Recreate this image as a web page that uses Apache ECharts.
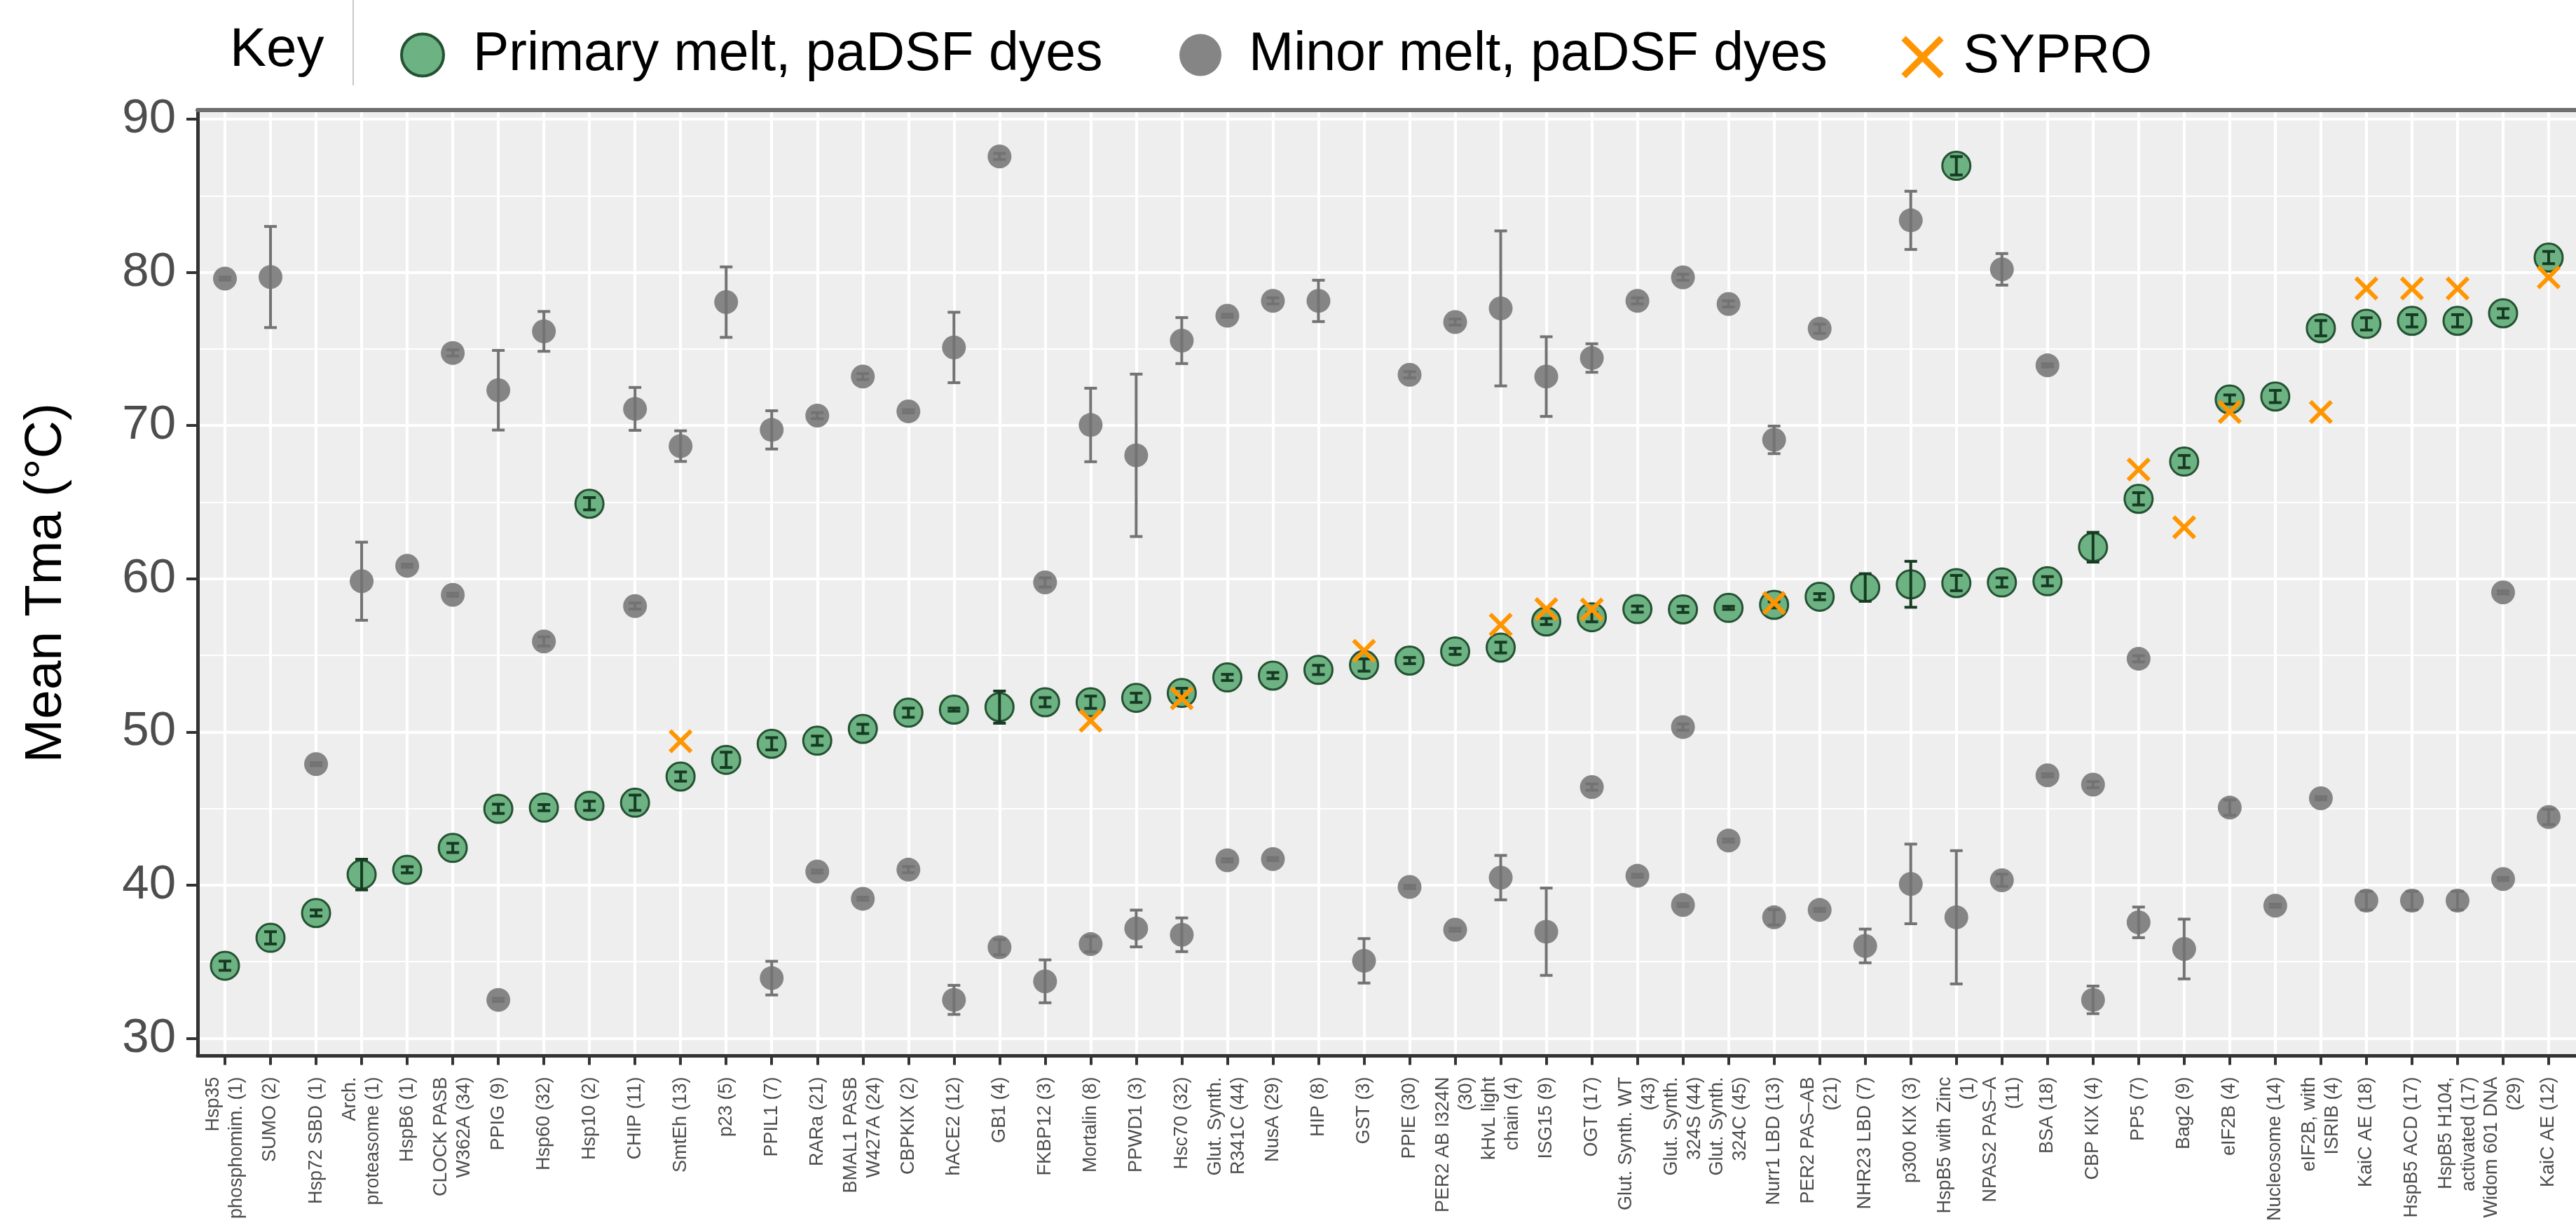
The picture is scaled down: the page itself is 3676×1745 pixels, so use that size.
<!DOCTYPE html>
<html>
<head>
<meta charset="utf-8">
<script src="https://cdn.jsdelivr.net/npm/echarts@6/dist/echarts.min.js"></script>
<style>
  html, body { margin: 0; padding: 0; background: #ffffff; }
  #chart { width: 3676px; height: 1745px; }
</style>
</head>
<body>
<div id="chart"></div>
<script>
// Protein names, with the number of samples in brackets
const categories = [
  'Hsp35\nphosphomim. (1)', 'SUMO (2)', 'Hsp72 SBD (1)', 'Arch.\nproteasome (1)', 'HspB6 (1)',
  'CLOCK PASB\nW362A (34)', 'PPIG (9)', 'Hsp60 (32)', 'Hsp10 (2)', 'CHIP (11)',
  'SmtEh (13)', 'p23 (5)', 'PPIL1 (7)', 'RARa (21)', 'BMAL1 PASB\nW427A (24)',
  'CBPKIX (2)', 'hACE2 (12)', 'GB1 (4)', 'FKBP12 (3)', 'Mortalin (8)',
  'PPWD1 (3)', 'Hsc70 (32)', 'Glut. Synth.\nR341C (44)', 'NusA (29)', 'HIP (8)',
  'GST (3)', 'PPIE (30)', 'PER2 AB I324N\n(30)', 'kHvL light\nchain (4)', 'ISG15 (9)',
  'OGT (17)', 'Glut. Synth. WT\n(43)', 'Glut. Synth.\n324S (44)', 'Glut. Synth.\n324C (45)', 'Nurr1 LBD (13)',
  'PER2 PAS\u2013AB\n(21)', 'NHR23 LBD (7)', 'p300 KIX (3)', 'HspB5 with Zinc\n(1)', 'NPAS2 PAS\u2013A\n(11)',
  'BSA (18)', 'CBP KIX (4)', 'PP5 (7)', 'Bag2 (9)', 'eIF2B (4)',
  'Nucleosome (14)', 'eIF2B, with\nISRIB (4)', 'KaiC AE (18)', 'HspB5 ACD (17)', 'HspB5 H104,\nactivated (17)',
  'Widom 601 DNA\n(29)', 'KaiC AE (12)'
];

const yTicks = [30, 40, 50, 60, 70, 80, 90];
const yMinorTicks = [35, 45, 55, 65, 75, 85];

// [category index, mean Tma, error]
const primaryMelts = [
  [0, 34.74, 0.3], [1, 36.56, 0.4], [2, 38.18, 0.2], [3, 40.69, 1.0], [4, 41.0, 0.2],
  [5, 42.43, 0.3], [6, 44.98, 0.3], [7, 45.06, 0.2], [8, 45.18, 0.3], [8, 64.9, 0.4],
  [9, 45.38, 0.5], [10, 47.09, 0.3], [11, 48.18, 0.5], [12, 49.23, 0.4], [13, 49.43, 0.3],
  [14, 50.2, 0.3], [15, 51.26, 0.3], [16, 51.46, 0.1], [17, 51.62, 1.05], [18, 51.94, 0.3],
  [19, 51.94, 0.4], [20, 52.23, 0.3], [21, 52.55, 0.3], [22, 53.56, 0.2], [23, 53.68, 0.2],
  [24, 54.05, 0.3], [25, 54.37, 0.4], [26, 54.66, 0.2], [27, 55.26, 0.2], [28, 55.51, 0.35],
  [29, 57.21, 0.2], [30, 57.49, 0.3], [31, 58.02, 0.2], [32, 58.0, 0.2], [33, 58.1, 0.1],
  [34, 58.3, 0.2], [35, 58.83, 0.2], [36, 59.43, 0.9], [37, 59.64, 1.5], [38, 59.72, 0.5],
  [38, 86.96, 0.6], [39, 59.76, 0.3], [40, 59.84, 0.3], [41, 62.06, 0.97], [42, 65.22, 0.4],
  [43, 67.65, 0.4], [44, 71.7, 0.3], [45, 71.9, 0.4], [46, 76.36, 0.5], [47, 76.64, 0.4],
  [48, 76.84, 0.4], [49, 76.84, 0.4], [50, 77.33, 0.3], [51, 80.97, 0.4]
];

const minorMelts = [
  [0, 79.6, 0.1], [1, 79.7, 3.3], [2, 47.9, 0.1], [3, 59.84, 2.55], [4, 60.85, 0.1],
  [5, 74.74, 0.2], [5, 58.95, 0.1], [6, 72.31, 2.6], [6, 32.51, 0.1],
  [7, 76.15, 1.3], [7, 55.91, 0.3], [9, 71.09, 1.4], [9, 58.22, 0.2],
  [10, 68.66, 1.0], [11, 78.06, 2.3], [12, 69.72, 1.25], [12, 33.93, 1.1],
  [13, 70.65, 0.2], [13, 40.89, 0.1], [14, 73.2, 0.2], [14, 39.11, 0.1],
  [15, 70.93, 0.1], [15, 41.01, 0.2], [16, 75.1, 2.3], [16, 32.51, 0.95],
  [17, 87.57, 0.2], [17, 35.95, 0.5], [18, 59.76, 0.3], [18, 33.72, 1.4],
  [19, 70.04, 2.4], [19, 36.15, 0.5], [20, 68.06, 5.3], [20, 37.17, 1.2],
  [21, 75.55, 1.5], [21, 36.76, 1.1], [22, 77.17, 0.1], [22, 41.62, 0.1],
  [23, 78.14, 0.2], [23, 41.7, 0.1], [24, 78.14, 1.35], [25, 35.06, 1.45],
  [26, 73.32, 0.2], [26, 39.88, 0.1], [27, 76.76, 0.2], [27, 37.09, 0.1],
  [28, 77.65, 5.06], [28, 40.49, 1.45], [29, 73.2, 2.6], [29, 36.96, 2.85],
  [30, 74.41, 0.93], [30, 46.4, 0.2], [31, 78.14, 0.2], [31, 40.61, 0.1],
  [32, 79.68, 0.2], [32, 50.32, 0.2], [32, 38.7, 0.1], [33, 77.94, 0.2], [33, 42.91, 0.1],
  [34, 69.07, 0.9], [34, 37.9, 0.5], [35, 76.32, 0.3], [35, 38.38, 0.1],
  [36, 36.03, 1.1], [37, 83.4, 1.9], [37, 40.08, 2.6], [38, 37.9, 4.35],
  [39, 80.2, 1.03], [39, 40.32, 0.4], [40, 73.93, 0.1], [40, 47.17, 0.1],
  [41, 46.56, 0.2], [41, 32.51, 0.9], [42, 54.78, 0.2], [42, 37.57, 1.0],
  [43, 35.83, 1.95], [44, 45.06, 0.5], [45, 38.66, 0.1], [46, 45.67, 0.1],
  [47, 38.99, 0.6], [48, 38.99, 0.6], [49, 38.99, 0.6], [50, 59.11, 0.1], [50, 40.4, 0.1],
  [51, 44.45, 0.5]
];

// [category index, SYPRO Tma]
const syproMelts = [
  [10, 49.39], [19, 50.73], [21, 52.2], [25, 55.3], [28, 57.0], [29, 58.02], [30, 58.0],
  [34, 58.42], [42, 67.13], [43, 63.36], [44, 70.89], [46, 70.89], [47, 78.95], [48, 78.95],
  [49, 78.95], [51, 79.68]
];

const FONT = '"Liberation Sans", Arial, Helvetica, sans-serif';
const GREEN = '#6DB283';
const GREEN_EDGE = '#245232';
const GREY = '#858585';
const ORANGE = '#FF9500';
const CROSS = 'path://M0 0L10 10M10 0L0 10';
const catIndex = categories.map((_, i) => i);

function errorBars(name, rows, color, z) {
  return {
    type: 'custom',
    name: name,
    z: z,
    silent: true,
    data: rows.map(r => [r[0], r[1] - r[2], r[1] + r[2]]),
    encode: { x: 0, y: [1, 2] },
    renderItem: function (params, api) {
      const x = api.value(0);
      const lo = api.coord([x, api.value(1)]);
      const hi = api.coord([x, api.value(2)]);
      const hw = 9;
      const style = { stroke: color, lineWidth: 4 };
      return {
        type: 'group',
        children: [
          { type: 'line', shape: { x1: lo[0], y1: lo[1], x2: hi[0], y2: hi[1] }, style: style },
          { type: 'line', shape: { x1: lo[0] - hw, y1: lo[1], x2: lo[0] + hw, y2: lo[1] }, style: style },
          { type: 'line', shape: { x1: hi[0] - hw, y1: hi[1], x2: hi[0] + hw, y2: hi[1] }, style: style }
        ]
      };
    }
  };
}

const chart = echarts.init(document.getElementById('chart'));

const legendText = { fontSize: 77, fontFamily: FONT, color: '#000000', lineHeight: 60 };

chart.setOption({
  animation: false,
  backgroundColor: '#ffffff',
  textStyle: { fontFamily: FONT },
  grid: {
    left: 282, right: -22, top: 157, bottom: 236,
    show: true, backgroundColor: '#EEEEEE', borderWidth: 0
  },
  legend: [
    {
      data: ['Primary melt, paDSF dyes'], left: 571, top: 40, padding: 0,
      itemWidth: 60, itemHeight: 60, selectedMode: false,
      itemStyle: { borderWidth: 4 },
      textStyle: Object.assign({ padding: [0, 0, 0, 37] }, legendText)
    },
    {
      data: ['Minor melt, paDSF dyes'], left: 1683, top: 40, padding: 0,
      itemWidth: 60, itemHeight: 60, selectedMode: false,
      itemStyle: { borderWidth: 0 },
      textStyle: Object.assign({ padding: [0, 0, 0, 34] }, legendText)
    },
    {
      data: ['SYPRO'], left: 2712, top: 43, padding: 0,
      itemWidth: 54, itemHeight: 54, selectedMode: false,
      itemStyle: { borderWidth: 9 },
      textStyle: Object.assign({ padding: [0, 0, 0, 26] }, legendText)
    }
  ],
  graphic: [
    {
      type: 'text', x: 328, y: 72,
      style: { text: 'Key', fontSize: 78, fontFamily: FONT, fill: '#000000', verticalAlign: 'middle' }
    },
    {
      type: 'line', shape: { x1: 504, y1: 0, x2: 504, y2: 122 },
      style: { stroke: '#C8C8C8', lineWidth: 2 }
    }
  ],
  xAxis: [
    {
      type: 'value', min: -0.6, max: 51.6, position: 'bottom',
      axisLine: { show: true, onZero: false, lineStyle: { color: '#333333', width: 5 } },
      axisTick: { show: true, length: 13, customValues: catIndex, lineStyle: { color: '#333333', width: 4 } },
      axisLabel: {
        customValues: catIndex, rotate: 90, margin: 30,
        fontSize: 27, lineHeight: 33, fontFamily: FONT, color: '#4D4D4D',
        formatter: v => categories[Math.round(v)]
      },
      splitLine: { show: true, lineStyle: { color: '#FFFFFF', width: 4 } }
    },
    {
      type: 'value', min: -0.6, max: 51.6, position: 'top',
      axisLine: { show: true, onZero: false, lineStyle: { color: '#6E6E6E', width: 6 } },
      axisTick: { show: false }, axisLabel: { show: false }, splitLine: { show: false }
    }
  ],
  yAxis: [
    {
      type: 'value', min: 28.86, max: 90.6,
      name: 'Mean Tma (\u00B0C)', nameLocation: 'middle', nameGap: 178, nameRotate: 90,
      nameTextStyle: { fontSize: 75, fontFamily: FONT, color: '#000000' },
      axisLine: { show: true, onZero: false, lineStyle: { color: '#333333', width: 5 } },
      axisTick: { show: true, length: 16, customValues: yTicks, lineStyle: { color: '#333333', width: 4 } },
      axisLabel: { customValues: yTicks, margin: 31, fontSize: 69, fontFamily: FONT, color: '#4D4D4D' },
      splitLine: { show: true, lineStyle: { color: '#FFFFFF', width: 4 } }
    },
    {
      type: 'value', min: 28.86, max: 90.6,
      axisLine: { show: false }, axisLabel: { show: false },
      axisTick: { show: false, customValues: yMinorTicks },
      splitLine: { show: true, lineStyle: { color: '#FFFFFF', width: 2 } }
    }
  ],
  series: [
    {
      type: 'scatter', name: 'Minor melt, paDSF dyes', z: 2,
      symbol: 'circle', symbolSize: 34,
      itemStyle: { color: GREY, opacity: 1 },
      data: minorMelts.map(r => [r[0], r[1]])
    },
    errorBars('minor error', minorMelts, '#737373', 3),
    {
      type: 'scatter', name: 'Primary melt, paDSF dyes', z: 4,
      symbol: 'circle', symbolSize: 40,
      itemStyle: { color: GREEN, borderColor: GREEN_EDGE, borderWidth: 3, opacity: 1 },
      data: primaryMelts.map(r => [r[0], r[1]])
    },
    errorBars('primary error', primaryMelts, '#173B22', 5),
    {
      type: 'scatter', name: 'SYPRO', z: 6,
      symbol: CROSS, symbolSize: 30,
      itemStyle: { color: 'rgba(0,0,0,0)', borderColor: ORANGE, borderWidth: 6, opacity: 1 },
      data: syproMelts
    }
  ]
});
</script>
</body>
</html>
